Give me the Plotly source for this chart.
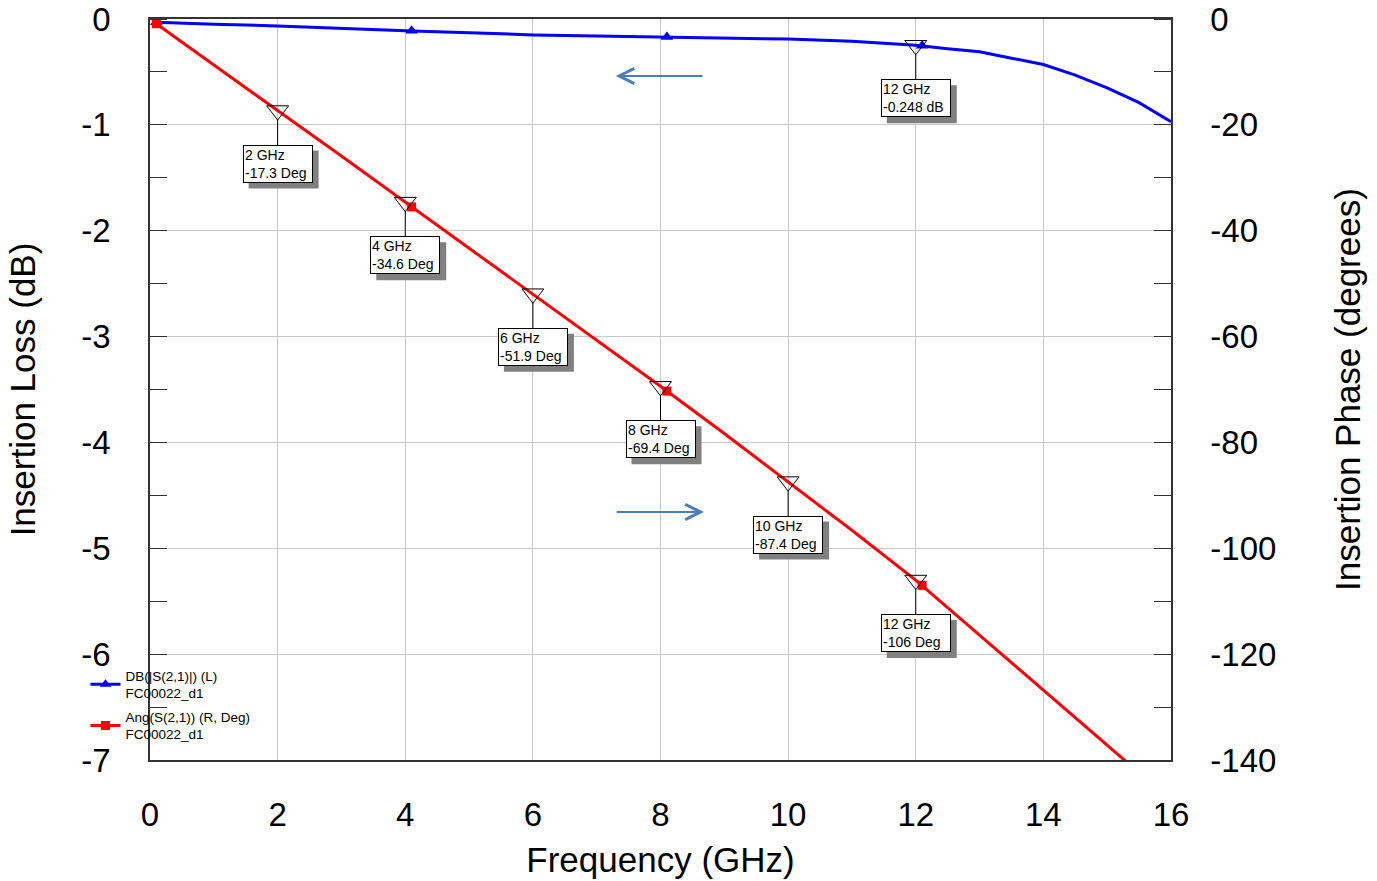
import plotly.graph_objects as go

# ---------------- data ----------------
freq_db = [0.1, 1, 2, 3, 4, 5, 6, 7, 8, 9, 10, 11, 12, 12.5, 13, 13.5, 14, 14.5, 15, 15.5, 16]
s21_db = [-0.03, -0.05, -0.065, -0.09, -0.11, -0.13, -0.15, -0.16, -0.17, -0.18, -0.19, -0.21,
          -0.248, -0.28, -0.31, -0.37, -0.43, -0.53, -0.65, -0.79, -0.97]

freq_ph = [0.1, 1, 2, 3, 4, 5, 6, 7, 8, 9, 10, 11, 12, 13, 14, 15, 16]
s21_ang = [-0.9, -8.6, -17.3, -25.9, -34.6, -43.2, -51.9, -60.6, -69.4, -78.3, -87.4,
           -96.6, -106, -116.4, -126.8, -137.2, -147.6]

sym_freq = [0.1, 4.1, 8.1, 12.1]
sym_db = [-0.03, -0.112, -0.171, -0.252]
sym_ang = [-0.9, -35.5, -70.3, -107.0]

mk_ang_freq = [2, 4, 6, 8, 10, 12]
mk_ang_val = [-17.3, -34.6, -51.9, -69.4, -87.4, -106]
mk_ang_lbl = ["2 GHz<br>-17.3 Deg", "4 GHz<br>-34.6 Deg", "6 GHz<br>-51.9 Deg",
              "8 GHz<br>-69.4 Deg", "10 GHz<br>-87.4 Deg", "12 GHz<br>-106 Deg"]
mk_db_freq = [12]
mk_db_val = [-0.248]
mk_db_lbl = ["12 GHz<br>-0.248 dB"]

x_ticks = [0, 2, 4, 6, 8, 10, 12, 14, 16]
yl_ticks = [0, -1, -2, -3, -4, -5, -6, -7]
yr_ticks = [0, -20, -40, -60, -80, -100, -120, -140]

name_db = "DB(|S(2,1)|) (L)<br>FC00022_d1"
name_ang = "Ang(S(2,1)) (R, Deg)<br>FC00022_d1"

# ---------------- styles ----------------
FONT = "Arial, Liberation Sans, sans-serif"
BLUE = "#0000ff"
RED = "#ff0000"
ARROW = "rgb(74,126,187)"
GRID = "#c8c8c8"
AXC = "#333333"

fig = go.Figure()

# S21 dB (left axis)
fig.add_trace(go.Scatter(x=freq_db, y=s21_db, mode="lines", line=dict(color=BLUE, width=3),
                         showlegend=False, yaxis="y"))
fig.add_trace(go.Scatter(x=sym_freq, y=sym_db, mode="markers",
                         marker=dict(symbol="triangle-up", size=11, color=BLUE),
                         showlegend=False, yaxis="y"))
fig.add_trace(go.Scatter(x=[None], y=[None], mode="lines+markers", name=name_db,
                         legendgroup="db",
                         line=dict(color=BLUE, width=3),
                         marker=dict(symbol="triangle-up", size=10, color=BLUE), yaxis="y"))

# S21 angle (right axis)
fig.add_trace(go.Scatter(x=freq_ph, y=s21_ang, mode="lines", line=dict(color=RED, width=3),
                         showlegend=False, yaxis="y2"))
fig.add_trace(go.Scatter(x=sym_freq, y=sym_ang, mode="markers",
                         marker=dict(symbol="square", size=9, color=RED),
                         showlegend=False, yaxis="y2"))
fig.add_trace(go.Scatter(x=[None], y=[None], mode="lines+markers", name=name_ang,
                         legendgroup="ang",
                         line=dict(color=RED, width=3),
                         marker=dict(symbol="square", size=9, color=RED), yaxis="y2"))

# marker triangles
fig.add_trace(go.Scatter(x=mk_ang_freq, y=mk_ang_val, mode="markers", yaxis="y2", showlegend=False,
                         marker=dict(symbol="triangle-down-open", size=19, color="black",
                                     line=dict(width=1, color="black"))))
fig.add_trace(go.Scatter(x=mk_db_freq, y=mk_db_val, mode="markers", yaxis="y", showlegend=False,
                         marker=dict(symbol="triangle-down-open", size=19, color="black",
                                     line=dict(width=1, color="black"))))

annotations = []
shapes = []
BOX_AY = 53        # px from marker point down to box centre
BOX_FONT = 14
BOX_TW = 66        # text area width (px)
BOX_W = BOX_TW + 4  # outer width incl. pad + border
BOX_H = 38
SHADOW = 6


def marker_box(x, y, text, yref):
    # shadow rectangle, anchored at the marker point, sized in pixels
    shapes.append(dict(type="rect", xref="x", yref=yref, xsizemode="pixel", ysizemode="pixel",
                       xanchor=x, yanchor=y,
                       x0=-BOX_W / 2 + SHADOW, x1=BOX_W / 2 + SHADOW,
                       y0=-BOX_AY - BOX_H / 2 - SHADOW, y1=-BOX_AY + BOX_H / 2 - SHADOW,
                       fillcolor="#808080", line=dict(width=0), layer="above"))
    # box with leader line
    annotations.append(dict(x=x, y=y, xref="x", yref=yref, text=text, showarrow=True,
                            ax=0, ay=BOX_AY, arrowhead=0, arrowwidth=1, arrowcolor="black",
                            standoff=9, align="left", width=BOX_TW,
                            font=dict(family=FONT, size=BOX_FONT, color="black"),
                            bgcolor="white", bordercolor="black", borderwidth=1, borderpad=1))


for f, v, t in zip(mk_ang_freq, mk_ang_val, mk_ang_lbl):
    marker_box(f, v, t, "y2")
for f, v, t in zip(mk_db_freq, mk_db_val, mk_db_lbl):
    marker_box(f, v, t, "y")

# direction arrows
ARROW_L = dict(x0=8.68, x1=7.30, y=-0.538)
ARROW_R = dict(x0=7.29, x1=8.68, y=-4.657)
for a in (ARROW_L, ARROW_R):
    annotations.append(dict(x=a["x1"], y=a["y"], ax=a["x0"], ay=a["y"], xref="x", yref="y",
                            axref="x", ayref="y", text="", showarrow=True, arrowhead=5,
                            arrowsize=1.5, arrowwidth=2, arrowcolor=ARROW))

fig.update_layout(
    width=1377, height=881,
    margin=dict(l=150, r=206, t=19, b=121, autoexpand=False),
    paper_bgcolor="white", plot_bgcolor="white",
    font=dict(family=FONT, color="black"),
    annotations=annotations,
    shapes=shapes,
    xaxis=dict(range=[0, 16], tickvals=x_ticks, ticktext=[str(v) for v in x_ticks],
               automargin=False,
               showgrid=True, gridcolor=GRID, gridwidth=1, zeroline=False,
               showline=True, linecolor=AXC, linewidth=1.5, mirror=True, ticks="",
               ticklabelstandoff=25, tickfont=dict(size=33),
               title=dict(text="Frequency (GHz)", font=dict(size=35), standoff=15)),
    yaxis=dict(range=[-7, 0], tickvals=yl_ticks, ticktext=[str(v) for v in yl_ticks],
               automargin=False, ticklabeloverflow="allow",
               showgrid=True, gridcolor=GRID, gridwidth=1, zeroline=False,
               showline=True, linecolor=AXC, linewidth=1.5, ticks="",
               ticklabelstandoff=31, tickfont=dict(size=33),
               minor=dict(dtick=0.5, tick0=0, ticks="inside", ticklen=17, tickcolor=AXC,
                          tickwidth=1, showgrid=False),
               title=dict(text="Insertion Loss (dB)", font=dict(size=35), standoff=35)),
    yaxis2=dict(range=[-140, 0], overlaying="y", side="right", automargin=False,
                ticklabeloverflow="allow",
                tickvals=yr_ticks, ticktext=[str(v) for v in yr_ticks],
                showgrid=False, zeroline=False, showline=True, linecolor=AXC, linewidth=1.5,
                ticks="", ticklabelstandoff=31, tickfont=dict(size=33),
                minor=dict(dtick=10, tick0=0, ticks="inside", ticklen=17, tickcolor=AXC,
                           tickwidth=1, showgrid=False),
                title=dict(text="Insertion Phase (degrees)", font=dict(size=35), standoff=60)),
    legend=dict(x=-0.0632, y=0.1346, xanchor="left", yanchor="top",
                bgcolor="rgba(255,255,255,0)", font=dict(size=13.5, family=FONT),
                tracegroupgap=3),
)

fig.write_html("out.html", config={"displayModeBar": False},
               post_script="document.body.style.margin='0px';")
